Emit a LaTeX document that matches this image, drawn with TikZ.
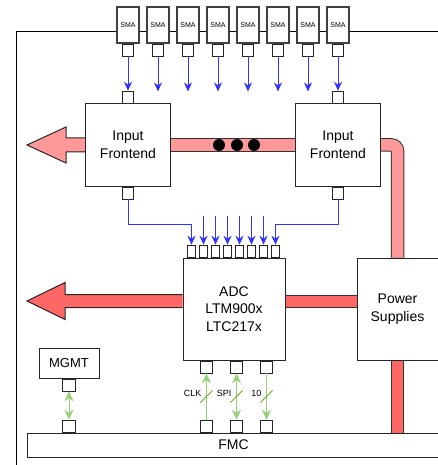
\documentclass[tikz,border=0pt]{standalone}
\usepackage{fontspec}
\setmainfont{Liberation Sans}
\usepackage{xcolor}
\usetikzlibrary{arrows.meta,positioning,calc,backgrounds}
\definecolor{fepink}{HTML}{FF9999}
\definecolor{adcred}{HTML}{FF6666}
\definecolor{sigblue}{HTML}{3333FF}
\definecolor{ctlgreen}{HTML}{97D077}
\definecolor{slashgreen}{HTML}{60A917}
\tikzset{
  adcblock/.style={
    rectangle, draw=black!85, fill=white, line width=1pt,
    align=center, inner sep=2pt, font=\fontsize{14}{17.5}\selectfont
  },
  adcsma/.style={
    rectangle, draw=black!75, fill=white, line width=1.3pt,
    minimum width=22pt, minimum height=36pt, inner sep=0pt,
    font=\fontsize{7}{8}\selectfont
  },
  adcpin/.style={
    rectangle, draw=black!85, fill=white, line width=0.8pt,
    minimum width=11pt, minimum height=12pt, inner sep=0pt
  },
  adcdot/.style={circle, fill=black, minimum size=12pt, inner sep=0pt},
  adcsig/.style={-{Stealth[length=9pt,width=8pt]}, draw=sigblue, line width=0.9pt},
  adcctl/.style={draw=ctlgreen, line width=1pt, >={Stealth[length=10pt,width=9pt]}},
  adcslash/.style={draw=slashgreen, line width=1pt},
  adcband/.style={draw=black!80, line width=1pt, double=fepink, double distance=11.5pt},
  adcfat/.style={draw=black!85, line width=1pt, line join=miter},
  adclabel/.style={font=\fontsize{9}{10}\selectfont, inner sep=0pt},
  adcboard/.style={draw=black, line width=1pt},
}
\begin{document}
\begin{tikzpicture}[x=1pt, y=-1pt]
  \useasboundingbox (0,0) rectangle (437,465);
  \foreach \i in {1,...,8} {
    \node[adcsma] (sma\i) at ({98+30*\i},25) {SMA};
    \node[adcpin, below=0pt of sma\i] (sp\i) {};
  }
  \node[adcblock, minimum width=85pt, minimum height=82pt] (fe1) at (128,145) {Input\\Frontend};
  \node[adcblock, minimum width=85pt, minimum height=82pt] (fe2) at (338,145) {Input\\Frontend};
  \node[adcpin, above=0pt of fe1] (fe1in) {};
  \node[adcpin, below=0pt of fe1] (fe1out) {};
  \node[adcpin, above=0pt of fe2] (fe2in) {};
  \node[adcpin, below=0pt of fe2] (fe2out) {};
  \foreach \x [count=\k] in {219,237,254} \node[adcdot] (dot\k) at (\x,145) {};
  \node[adcblock, minimum width=102pt, minimum height=102pt] (adc) at (234,309) {ADC\\LTM900x\\LTC217x};
  \node[adcblock, minimum width=81pt, minimum height=102pt] (ps) at (397.5,309) {Power\\Supplies};
  \node[adcblock, minimum width=413pt, minimum height=24pt] (fmc) at (233.5,445) {FMC};
  \node[adcblock, minimum width=60pt, minimum height=30pt, font=\fontsize{13}{15}\selectfont] (mgmt) at (69,363) {MGMT};
  \foreach \i in {1,...,8}
    \node[adcpin, minimum width=8pt, anchor=south] (ap\i) at ([xshift={(12*\i-3)*1pt}]adc.north west) {};
  \foreach \s/\x in {clk/24,spi/54,ten/84} {
    \node[adcpin, minimum width=12pt, anchor=north] (a\s) at ([xshift=\x*1pt]adc.south west) {};
    \node[adcpin, minimum width=12pt, anchor=south] (f\s) at (a\s |- fmc.north) {};
  }
  \node[adcpin, minimum width=13pt, below=0pt of mgmt] (mp) {};
  \node[adcpin, minimum width=13pt, anchor=south] (fmp) at (mp |- fmc.north) {};
  \coordinate (feout) at (27,145);
  \coordinate (adcout) at (27,301);
  \coordinate (adcbus) at (adc.west |- adcout);
  \draw[adcsig] (sp1.south) -- (fe1in.north);
  \draw[adcsig] (sp8.south) -- (fe2in.north);
  \foreach \i in {2,...,7} {
    \coordinate (smaend\i) at ([yshift=-35pt]sp\i.south);
    \draw[adcsig] (sp\i.south) -- (smaend\i);
  }
  \draw[adcsig, line width=0.7pt] (fe1out.south) -- ++(0,25) -| (ap1.north);
  \draw[adcsig, line width=0.7pt] (fe2out.south) -- ++(0,25) -| (ap8.north);
  \foreach \i in {2,...,7} {
    \coordinate (adcin\i) at ([yshift=29pt]ap\i.north);
    \draw[adcsig] (adcin\i) -- (ap\i.north);
  }
  \draw[adcctl, <->] (mp.south) -- (fmp.north);
  \draw[adcctl, ->] (fclk.north) -- (aclk.south);
  \draw[adcctl, <->] (fspi.north) -- (aspi.south);
  \draw[adcctl, <-] (ften.north) -- (aten.south);
  \foreach \s/\t in {clk/CLK,spi/SPI,ten/10} {
    \coordinate (m\s) at ($(f\s.north)!0.5!(a\s.south)$);
    \draw[adcslash] ([shift={(-6,6)}]m\s) -- ([shift={(6,-6)}]m\s);
    \node[adclabel, anchor=east] (l\s) at ([xshift=-5pt,yshift=3pt]m\s) {\t};
  }
  \begin{scope}[on background layer]
    \draw[adcboard] (16,466) -- (16,32) -- (440,32);
    \draw[adcband] (fe1.east) -- (fe2.west);
    \draw[adcband, rounded corners=6pt] (fe2.east) -| (ps.north);
    \draw[adcband, double=adcred, double distance=11pt] (adc.east |- adcout) -- (ps.west |- adcout);
    \draw[adcband, double=adcred, double distance=11pt] (ps.south) -- (ps.south |- fmc.north);
    \draw[adcfat, fill=fepink] ($(fe1.west)+(0,-7)$) -- ($(feout)+(39,-7)$) -- ($(feout)+(39,-18)$)
      -- (feout) -- ($(feout)+(39,18)$) -- ($(feout)+(39,7)$) -- ($(fe1.west)+(0,7)$);
    \draw[adcfat, fill=adcred] ($(adcbus)+(0,-6.5)$) -- ($(adcout)+(38,-6.5)$) -- ($(adcout)+(38,-18.5)$)
      -- (adcout) -- ($(adcout)+(38,18.5)$) -- ($(adcout)+(38,6.5)$) -- ($(adcbus)+(0,6.5)$);
  \end{scope}
\end{tikzpicture}
\end{document}
